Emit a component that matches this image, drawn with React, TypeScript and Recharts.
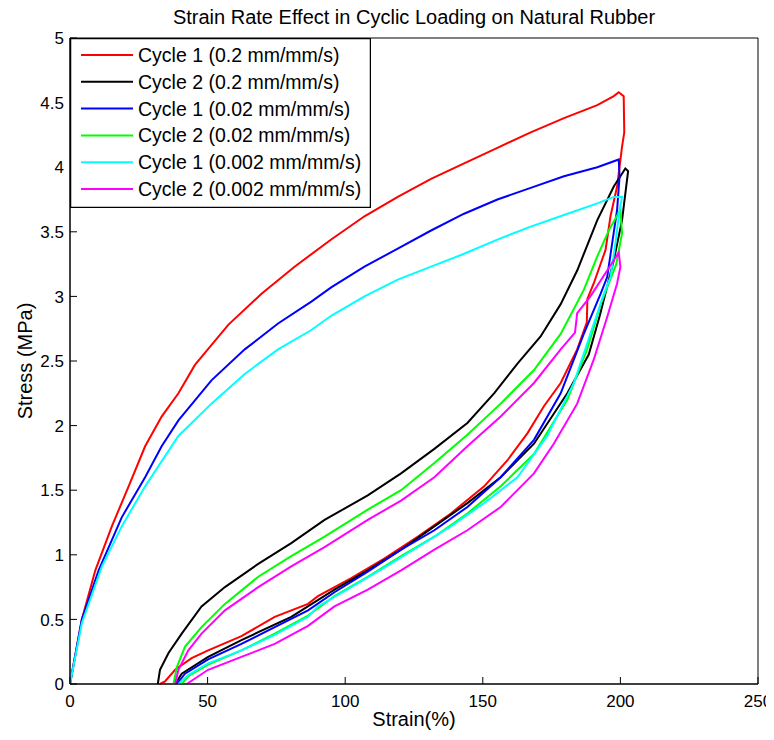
import { LineChart, Line, XAxis, YAxis, Legend, ReferenceArea } from "recharts";

// [strain %, stress MPa]; each series is a loading + unloading loop
const cycle1Fast: [number, number][] = [
  [0, 0], [4.3, 0.5], [9.2, 0.88], [15.2, 1.22], [21.3, 1.53], [27.3, 1.84], [33.3, 2.07],
  [39.4, 2.25], [45.4, 2.47], [57.5, 2.78], [69.6, 3.02], [81.6, 3.23], [94.9, 3.44],
  [107, 3.62], [119.1, 3.77], [131.2, 3.91], [143.2, 4.03], [155.3, 4.15], [167.4, 4.27],
  [179.5, 4.38], [191.6, 4.48], [197.6, 4.55], [199.4, 4.58], [201.2, 4.55], [201.4, 4.27],
  [200.6, 4.16], [198.8, 3.85], [196.4, 3.62], [194.6, 3.36], [190.3, 3.1], [188, 2.98],
  [187.8, 2.8], [184.3, 2.59], [178.3, 2.33], [172.2, 2.15], [166.2, 1.94], [158.9, 1.73],
  [150.5, 1.53], [138.4, 1.32], [126.3, 1.14], [114.2, 0.97], [102.2, 0.82], [90.1, 0.68],
  [86.5, 0.62], [74.4, 0.52], [62.3, 0.37], [50.2, 0.26], [44.2, 0.2], [38.2, 0.11],
  [34.5, 0.02], [32.7, 0],
];

const cycle2Fast: [number, number][] = [
  [31.9, 0], [32.7, 0.11], [35.8, 0.24], [40.6, 0.39], [47.8, 0.6], [56.3, 0.75], [68.4, 0.93],
  [80.4, 1.09], [92.5, 1.27], [108.2, 1.46], [120.3, 1.63], [132.4, 1.82], [144.4, 2.02],
  [154.1, 2.25], [162.6, 2.48], [171, 2.69], [178.3, 2.94], [184.3, 3.2], [191.6, 3.59],
  [197.6, 3.85], [201.8, 3.99], [202.8, 3.97], [200.6, 3.59], [197.6, 3.28], [192.5, 2.85],
  [188.5, 2.55], [180.7, 2.25], [168.6, 1.86], [156.5, 1.6], [144.4, 1.4], [132.4, 1.22],
  [120.3, 1.04], [108.2, 0.88], [96.1, 0.73], [80.4, 0.52], [62.3, 0.34], [50.2, 0.21],
  [40.6, 0.08], [38.2, 0],
];

const cycle1Mid: [number, number][] = [
  [0, 0], [4.3, 0.5], [10.4, 0.88], [18.8, 1.29], [27.3, 1.6], [33.3, 1.84], [39.4, 2.04],
  [51.4, 2.35], [63.5, 2.59], [75.6, 2.79], [87.7, 2.96], [94.9, 3.07], [107, 3.23],
  [119.1, 3.37], [131.2, 3.51], [143.2, 3.64], [155.3, 3.75], [167.4, 3.84], [179.5, 3.93],
  [191.6, 4.0], [199.4, 4.06], [199.7, 3.93], [198.8, 3.67], [197, 3.41], [195.2, 3.15],
  [192.8, 3.02], [186.7, 2.71], [178.3, 2.25], [168.6, 1.89], [156.5, 1.6], [144.4, 1.37],
  [132.4, 1.19], [120.3, 1.04], [108.2, 0.87], [96.1, 0.71], [86.5, 0.57], [74.4, 0.44],
  [62.3, 0.31], [50.2, 0.19], [41.8, 0.08], [38.8, 0],
];

const cycle2Mid: [number, number][] = [
  [37.6, 0], [38.8, 0.13], [41.8, 0.29], [47.8, 0.44], [56.3, 0.62], [68.4, 0.83], [80.4, 0.99],
  [92.5, 1.14], [108.2, 1.35], [120.3, 1.5], [132.4, 1.71], [144.4, 1.93], [156.5, 2.17],
  [168.6, 2.43], [178.3, 2.71], [186.7, 3.05], [191.6, 3.31], [196, 3.52], [200, 3.67],
  [200.6, 3.49], [198.5, 3.25], [193, 2.95], [187.9, 2.59], [180.7, 2.2], [168.6, 1.78],
  [156.5, 1.53], [144.4, 1.32], [132.4, 1.14], [120.3, 0.99], [108.2, 0.83], [96.1, 0.68],
  [86.5, 0.53], [74.4, 0.39], [62.3, 0.26], [50.2, 0.15], [43, 0.06], [40.6, 0],
];

const cycle1Slow: [number, number][] = [
  [0, 0], [4.3, 0.47], [11.6, 0.91], [18.8, 1.22], [27.3, 1.53], [39.4, 1.92], [51.4, 2.17],
  [63.5, 2.4], [75.6, 2.59], [87.7, 2.74], [94.9, 2.85], [107, 3.0], [119.1, 3.13],
  [131.2, 3.23], [143.2, 3.33], [155.3, 3.44], [167.4, 3.54], [179.5, 3.63], [191.6, 3.72],
  [197.6, 3.77], [200.6, 3.77], [199.7, 3.67], [198.2, 3.41], [196.4, 3.15], [194, 3.02],
  [189.1, 2.71], [183.1, 2.33], [173.4, 1.92], [162.6, 1.6], [150.5, 1.4], [138.4, 1.22],
  [126.3, 1.06], [114.2, 0.9], [102.2, 0.75], [90.1, 0.6], [86.5, 0.52], [74.4, 0.38],
  [62.3, 0.26], [50.2, 0.16], [43, 0.07], [39.4, 0],
];

const cycle2Slow: [number, number][] = [
  [38.2, 0], [39.4, 0.11], [43, 0.26], [47.8, 0.39], [56.3, 0.57], [68.4, 0.75], [80.4, 0.91],
  [92.5, 1.06], [108.2, 1.27], [120.3, 1.42], [132.4, 1.6], [144.4, 1.84], [156.5, 2.07],
  [168.6, 2.33], [178.3, 2.59], [183.5, 2.72], [184.3, 2.87], [189.1, 3.0], [195.2, 3.2],
  [199.4, 3.34], [200, 3.23], [198.8, 3.1], [195.2, 2.84], [190.3, 2.51], [184.3, 2.17],
  [175.8, 1.86], [168.6, 1.63], [156.5, 1.37], [144.4, 1.19], [132.4, 1.04], [120.3, 0.88],
  [108.2, 0.73], [96.1, 0.6], [86.5, 0.45], [74.4, 0.31], [62.3, 0.21], [50.2, 0.11],
  [42.4, 0],
];

const seriesNames = [
  "Cycle 1 (0.2 mm/mm/s)",
  "Cycle 2 (0.2 mm/mm/s)",
  "Cycle 1 (0.02 mm/mm/s)",
  "Cycle 2 (0.02 mm/mm/s)",
  "Cycle 1 (0.002 mm/mm/s)",
  "Cycle 2 (0.002 mm/mm/s)",
];
const seriesColors = ["#ff0000", "#000000", "#0000ff", "#00ff00", "#00ffff", "#ff00ff"];
const seriesData = [cycle1Fast, cycle2Fast, cycle1Mid, cycle2Mid, cycle1Slow, cycle2Slow];

const xTicks = [0, 50, 100, 150, 200, 250];
const yTicks = [0, 0.5, 1, 1.5, 2, 2.5, 3, 3.5, 4, 4.5, 5];

const FONT = '"Liberation Sans", Arial, Helvetica, sans-serif';
const TICK_LEN = 7;

const series = seriesData.map((pts, i) => ({
  name: seriesNames[i],
  color: seriesColors[i],
  data: pts.map(([strain, stress]) => ({ strain, stress })),
}));

// MATLAB style: ticks point into the plot on all four sides
function BottomTick(props: any) {
  const { x, y, payload } = props;
  return (
    <g>
      <line x1={x} y1={y} x2={x} y2={y - TICK_LEN} stroke="#000" />
      <text x={x} y={y + 23} textAnchor="middle" fontSize={17} fontFamily={FONT} fill="#000">
        {payload.value}
      </text>
    </g>
  );
}

function TopTick(props: any) {
  const { x, y } = props;
  return <line x1={x} y1={y} x2={x} y2={y + TICK_LEN} stroke="#000" />;
}

function LeftTick(props: any) {
  const { x, y, payload } = props;
  return (
    <g>
      <line x1={x} y1={y} x2={x + TICK_LEN} y2={y} stroke="#000" />
      <text x={x - 6} y={y} dy="0.36em" textAnchor="end" fontSize={17} fontFamily={FONT} fill="#000">
        {payload.value}
      </text>
    </g>
  );
}

function RightTick(props: any) {
  const { x, y } = props;
  return <line x1={x} y1={y} x2={x - TICK_LEN} y2={y} stroke="#000" />;
}

function LegendBox() {
  return (
    <svg width={301} height={170} style={{ display: "block" }}>
      <rect x={0.5} y={0.5} width={300} height={169} fill="#fff" stroke="#000" strokeWidth={1.5} />
      {series.map((s, i) => {
        const cy = 17 + i * 26.8;
        return (
          <g key={s.name}>
            <line x1={11} x2={63} y1={cy} y2={cy} stroke={s.color} strokeWidth={2} />
            <text x={68} y={cy} dy="0.36em" fontSize={19.5} fontFamily={FONT} fill="#000">
              {s.name}
            </text>
          </g>
        );
      })}
    </svg>
  );
}

// the outer box cancels the body margin so chart pixels equal page pixels
export default function App() {
  return (
    <div style={{ position: "relative", margin: "-8px 0 0 -8px", width: 774, height: 740, background: "#fff" }}>
      <div
        style={{
          position: "absolute",
          left: 70,
          top: 7,
          width: 688,
          textAlign: "center",
          fontFamily: FONT,
          fontSize: 20,
          lineHeight: "20px",
          color: "#000",
          whiteSpace: "nowrap",
        }}
      >
        Strain Rate Effect in Cyclic Loading on Natural Rubber
      </div>
      <LineChart width={774} height={740} margin={{ top: 38, right: 16, bottom: 12, left: 30 }}>
        <XAxis
          type="number"
          dataKey="strain"
          domain={[0, 250]}
          ticks={xTicks}
          interval={0}
          height={44}
          tickSize={0}
          tickMargin={0}
          tickLine={false}
          axisLine={{ stroke: "#000" }}
          tick={(p: any) => <BottomTick {...p} />}
          label={(p: any) => {
            const vb = p.viewBox;
            return (
              <text x={vb.x + vb.width / 2} y={vb.y + 42} textAnchor="middle" fontSize={20} fontFamily={FONT} fill="#000">
                Strain(%)
              </text>
            );
          }}
        />
        <XAxis
          xAxisId="top"
          orientation="top"
          type="number"
          dataKey="strain"
          domain={[0, 250]}
          ticks={xTicks}
          interval={0}
          height={0}
          tickSize={0}
          tickMargin={0}
          tickLine={false}
          axisLine={{ stroke: "#000" }}
          tick={(p: any) => <TopTick {...p} />}
        />
        <YAxis
          type="number"
          dataKey="stress"
          domain={[0, 5]}
          ticks={yTicks}
          interval={0}
          width={40}
          tickSize={0}
          tickMargin={0}
          tickLine={false}
          axisLine={{ stroke: "#000" }}
          tick={(p: any) => <LeftTick {...p} />}
          label={(p: any) => {
            const vb = p.viewBox;
            const cx = vb.x - 5;
            const cy = vb.y + vb.height / 2;
            return (
              <text
                x={cx}
                y={cy}
                dy="0.36em"
                transform={`rotate(-90, ${cx}, ${cy})`}
                textAnchor="middle"
                fontSize={20}
                fontFamily={FONT}
                fill="#000"
              >
                Stress (MPa)
              </text>
            );
          }}
        />
        <YAxis
          yAxisId="right"
          orientation="right"
          type="number"
          dataKey="stress"
          domain={[0, 5]}
          ticks={yTicks}
          interval={0}
          width={0}
          tickSize={0}
          tickMargin={0}
          tickLine={false}
          axisLine={{ stroke: "#000" }}
          tick={(p: any) => <RightTick {...p} />}
        />
        <ReferenceArea x1={0} x2={250} y1={0} y2={5} fill="none" stroke="#000" strokeWidth={1} />
        {series.map((s, i) => {
          // the last series is bound to the top/right axes (same domains) so those axes render
          const last = i === series.length - 1;
          return (
            <Line
              key={s.name}
              data={s.data}
              dataKey="stress"
              name={s.name}
              xAxisId={last ? "top" : 0}
              yAxisId={last ? "right" : 0}
              type="linear"
              stroke={s.color}
              strokeWidth={2}
              dot={false}
              activeDot={false}
              isAnimationActive={false}
            />
          );
        })}
        <Legend
          layout="vertical"
          align="center"
          verticalAlign="middle"
          wrapperStyle={{ left: 70, top: 38, width: 301, height: 170 }}
          content={() => <LegendBox />}
        />
      </LineChart>
    </div>
  );
}
